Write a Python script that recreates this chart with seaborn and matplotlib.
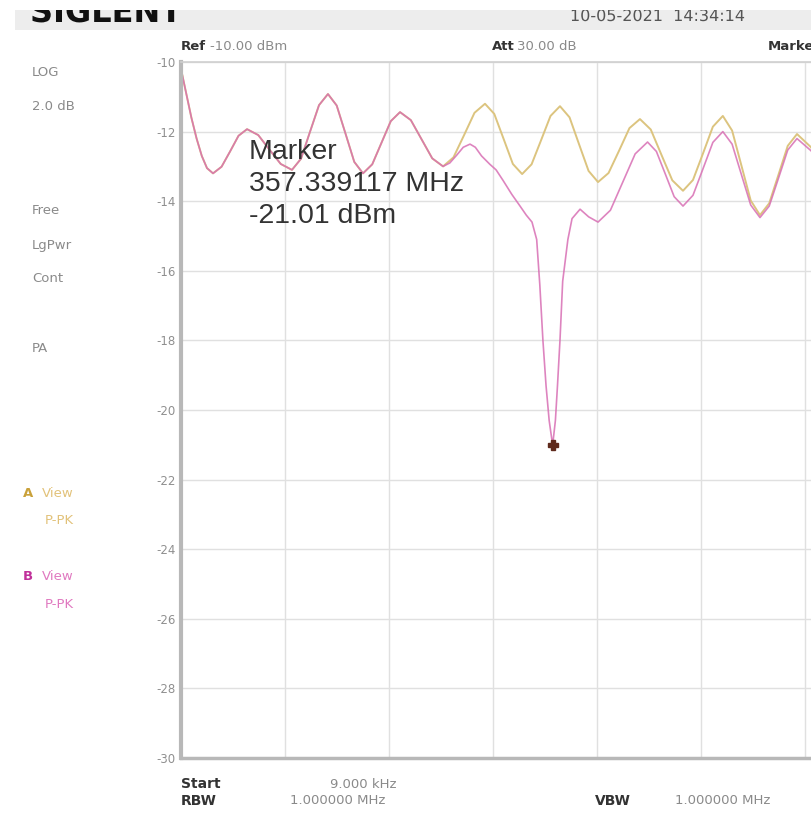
import matplotlib
matplotlib.use('Agg')
import matplotlib.pyplot as plt
from matplotlib.patches import PathPatch
from matplotlib.textpath import TextPath
from matplotlib.font_manager import FontProperties
from matplotlib.transforms import Affine2D
import seaborn as sns
import pandas as pd

# Frequence en MHz, niveau en dBm
freq_shared = [0, 5, 10, 15, 20, 25, 30.8, 39, 47.2, 55.3, 63.5, 74.3, 85.1, 95.9, 106.7,
               115.4, 124, 132.7, 141.3, 149.7, 158.2, 166.6, 175, 183.9, 192.8, 201.7,
               210.6, 221, 231.3, 241.6, 252]
level_shared = [-10.2, -10.9, -11.6, -12.2, -12.7, -13.05, -13.2, -13.01, -12.57, -12.12, -11.93,
                -12.1, -12.52, -12.93, -13.1, -12.78, -12.01, -11.24, -10.92, -11.25, -12.06,
                -12.87, -13.2, -12.94, -12.32, -11.7, -11.44, -11.67, -12.22, -12.77, -13.0]

freq_a = [262, 272.2, 282.2, 292.3, 301.2, 310.2, 319.1, 328, 337.1, 346.2, 355.3, 364.4,
          373.6, 382.7, 391.9, 401, 411.1, 421.2, 431.2, 441.3, 451.7, 462, 472.4, 482.7,
          492.3, 501.9, 511.4, 521, 529.9, 538.9, 547.8, 556.7, 565.6, 574.5, 583.4, 592.3,
          605.8, 612]
level_a = [-12.74, -12.1, -11.46, -11.2, -11.49, -12.21, -12.93, -13.22, -12.94, -12.25, -11.55,
           -11.27, -11.59, -12.36, -13.13, -13.45, -13.19, -12.55, -11.9, -11.64, -11.94, -12.67,
           -13.4, -13.7, -13.39, -12.63, -11.86, -11.55, -11.97, -12.98, -13.98, -14.4, -14.06,
           -13.24, -12.41, -12.07, -12.45, -12.75]

freq_b = [258.5, 265, 271.4, 277.9, 283, 289, 297, 303, 309.6, 318, 326, 332, 337.5, 342, 345,
          348, 351, 354, 357.339117, 360, 362, 364.4, 367, 372, 376, 383.7, 392, 401, 412.9,
          424.8, 436.7, 448.6, 457.1, 465.7, 474.2, 482.7, 492.3, 501.9, 511.4, 521, 529.9,
          538.9, 547.8, 556.7, 565.6, 574.5, 583.4, 592.3, 605.8, 612]
level_b = [-12.9, -12.68, -12.45, -12.36, -12.45, -12.7, -12.94, -13.1, -13.4, -13.8, -14.14,
           -14.4, -14.6, -15.1, -16.4, -18.0, -19.3, -20.3, -21.01, -20.3, -19.3, -18.0, -16.3,
           -15.1, -14.5, -14.23, -14.45, -14.6, -14.26, -13.45, -12.64, -12.3, -12.57, -13.22,
           -13.87, -14.14, -13.83, -13.07, -12.31, -12.0, -12.36, -13.24, -14.11, -14.47, -14.14,
           -13.34, -12.53, -12.2, -12.55, -12.8]

marker_freq = 357.339117
marker_level = -21.01
y_ticks = [-30, -28, -26, -24, -22, -20, -18, -16, -14, -12, -10]

W, H = 811, 814

trace_a = pd.DataFrame({'freq': freq_shared + freq_a, 'level': level_shared + level_a})
trace_b = pd.DataFrame({'freq': freq_shared + freq_b, 'level': level_shared + level_b})

sns.set_style('white')
plt.rcParams['font.family'] = ['DejaVu Sans']

fig = plt.figure(figsize=(W / 100, H / 100), dpi=100)


def px(x, y):
    return x / W, 1 - y / H


# bandeau du haut, coupe par le bord de la capture (coordonnees en pixels)
hdr = fig.add_axes([15 / W, 1 - 30 / H, (W - 15) / W, 20 / H])
hdr.set_facecolor('#ededed')
hdr.set_xlim(15, W)
hdr.set_ylim(30, 10)
hdr.set_xticks([])
hdr.set_yticks([])
for s in hdr.spines.values():
    s.set_visible(False)


def header_text(s, x, y, size, color, weight='normal'):
    path = TextPath((0, 0), s, size=size, prop=FontProperties(family='DejaVu Sans', weight=weight))
    tr = Affine2D().scale(1, -1).translate(x, y) + hdr.transData
    hdr.add_patch(PathPatch(path, transform=tr, facecolor=color, edgecolor='none'))


header_text('SIGLENT', 30, 22, 32, '#111111', 'bold')
header_text('10-05-2021  14:34:14', 570, 21, 16, '#555555')

# zone de trace : 10 divisions de 100 MHz, coupee a droite
ax = fig.add_axes([181 / W, 1 - 758 / H, 1040 / W, 696 / H])
sns.lineplot(data=trace_a, x='freq', y='level', ax=ax, color='#dcc47f', linewidth=1.4,
             estimator=None, sort=False)
sns.lineplot(data=trace_b, x='freq', y='level', ax=ax, color='#d86fb4', linewidth=1.2,
             alpha=0.85, estimator=None, sort=False)
ax.plot([marker_freq], [marker_level], marker='P', markersize=7, color='#5e2a1c',
        linestyle='none', zorder=5)

ax.set_xlim(0, 1000)
ax.set_ylim(-30, -10)
ax.set_xticks(range(0, 1001, 100))
ax.set_xticklabels([])
ax.set_yticks(y_ticks)
ax.set_yticklabels([str(t) for t in y_ticks], fontsize=8.5, color='#8f8f8f')
ax.tick_params(axis='y', length=3, color='#bbbbbb', pad=1)
ax.tick_params(axis='x', length=0)
ax.grid(True, color='#e0e0e0', linewidth=1.0)
ax.set_xlabel('')
ax.set_ylabel('')
ax.spines['left'].set_color('#b8b8b8')
ax.spines['left'].set_linewidth(3)
ax.spines['bottom'].set_color('#b8b8b8')
ax.spines['bottom'].set_linewidth(2.5)
ax.spines['top'].set_color('#d0d0d0')
ax.spines['top'].set_linewidth(1.2)
ax.spines['right'].set_visible(False)

# texte du marqueur
fig.text(*px(249, 139), 'Marker\n357.339117 MHz\n-21.01 dBm', fontsize=20.5, color='#333333',
         family=['Liberation Sans'], va='top', ha='left', linespacing=1.3)

# en-tete
grey = '#8a8a8a'
fig.text(*px(181, 47), 'Ref', fontsize=9.5, fontweight='bold', color='#333333', va='center')
fig.text(*px(210, 47), '-10.00 dBm', fontsize=9.5, color=grey, va='center')
fig.text(*px(492, 47), 'Att', fontsize=9.5, fontweight='bold', color='#333333', va='center')
fig.text(*px(517, 47), '30.00 dB', fontsize=9.5, color=grey, va='center')
fig.text(*px(768, 47), 'Marker', fontsize=9.5, fontweight='bold', color='#333333', va='center')

# colonne de gauche
side = [('LOG', 72), ('2.0 dB', 106), ('Free', 210), ('LgPwr', 245), ('Cont', 279), ('PA', 348)]
for label, y in side:
    fig.text(*px(32, y), label, fontsize=9.5, color=grey, va='center')
fig.text(*px(23, 493), 'A', fontsize=9.5, fontweight='bold', color='#c9a13a', va='center')
fig.text(*px(42, 493), 'View', fontsize=9.5, color='#e2c27a', va='center')
fig.text(*px(45, 521), 'P-PK', fontsize=9.5, color='#e2c27a', va='center')
fig.text(*px(23, 577), 'B', fontsize=9.5, fontweight='bold', color='#c0309a', va='center')
fig.text(*px(42, 577), 'View', fontsize=9.5, color='#e079c0', va='center')
fig.text(*px(45, 605), 'P-PK', fontsize=9.5, color='#e079c0', va='center')

# bas
fig.text(*px(181, 784), 'Start', fontsize=10, fontweight='bold', color='#333333', va='center')
fig.text(*px(330, 784), '9.000 kHz', fontsize=9.5, color=grey, va='center')
fig.text(*px(181, 801), 'RBW', fontsize=10, fontweight='bold', color='#333333', va='center')
fig.text(*px(290, 801), '1.000000 MHz', fontsize=9.5, color=grey, va='center')
fig.text(*px(595, 801), 'VBW', fontsize=10, fontweight='bold', color='#333333', va='center')
fig.text(*px(675, 801), '1.000000 MHz', fontsize=9.5, color=grey, va='center')

fig.savefig('out.png', dpi=100, facecolor='white')
